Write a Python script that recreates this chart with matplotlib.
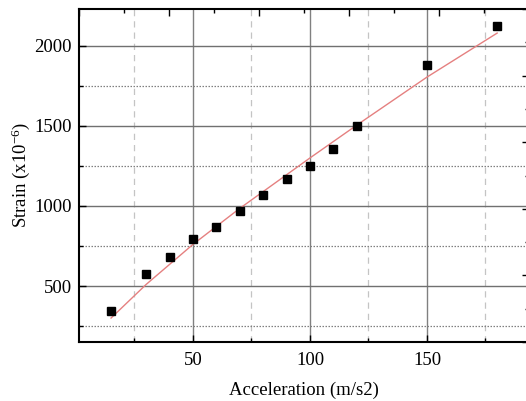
import matplotlib
matplotlib.use("Agg")
import matplotlib.pyplot as plt
from matplotlib.ticker import MultipleLocator, NullFormatter

plt.rcParams["font.family"] = ["Liberation Serif", "DejaVu Serif"]
plt.rcParams["mathtext.fontset"] = "custom"
plt.rcParams["mathtext.rm"] = "Liberation Serif"
plt.rcParams["mathtext.it"] = "Liberation Serif:italic"
plt.rcParams["axes.unicode_minus"] = False

# measured points
accel = [15, 30, 40, 50, 60, 70, 80, 90, 100, 110, 120, 150, 180]
strain = [345, 577, 684, 791, 871, 969, 1069, 1169, 1251, 1356, 1500, 1878, 2122]

# red trend line
fit_x = [15, 30, 50, 70, 100, 120, 150, 180]
fit_y = [300, 510, 760, 985, 1300, 1505, 1805, 2080]

fig = plt.figure(figsize=(5.26, 4.01), dpi=100)
ax = fig.add_axes([0.1502, 0.147, 0.8555, 0.8304])

ax.plot(fit_x, fit_y, color="#e58080", lw=1.0, zorder=3)
ax.plot(accel, strain, "s", color="black", ms=6, zorder=4)

ax.set_xlim(1.3, 193.6)
ax.set_ylim(150, 2230)
ax.xaxis.set_major_locator(MultipleLocator(50))
ax.xaxis.set_minor_locator(MultipleLocator(25))
ax.yaxis.set_major_locator(MultipleLocator(500))
ax.yaxis.set_minor_locator(MultipleLocator(250))

ax.grid(which="major", axis="x", color="#808080", lw=1.0, ls="-")
ax.grid(which="major", axis="y", color="#707070", lw=1.0, ls="-")
ax.grid(which="minor", axis="x", color="#c4c4c4", lw=0.9, ls=(0, (5, 4)))
ax.grid(which="minor", axis="y", color="#808080", lw=0.9, ls=(0, (1.2, 1.2)))
ax.set_axisbelow(True)

ax.tick_params(which="both", direction="in", top=False, right=False,
               labelsize=13.5, width=1.0)
ax.tick_params(which="major", length=5)
ax.tick_params(which="minor", length=3)
ax.tick_params(axis="x", pad=7)
ax.tick_params(axis="y", pad=5)

for s in ax.spines.values():
    s.set_linewidth(1.5)
    s.set_color("black")

ax.set_xlabel("Acceleration (m/s2)", fontsize=13.5, labelpad=9)
ax.set_ylabel("Strain (x10$^{-6}$)", fontsize=13.5, labelpad=2)

# top and right tick-only axes
top = ax.twiny()
top.set_xlim(0, 200)
top.xaxis.set_major_locator(MultipleLocator(40))
top.xaxis.set_minor_locator(MultipleLocator(20))
top.xaxis.set_major_formatter(NullFormatter())
top.tick_params(which="both", direction="in", width=1.0)
top.tick_params(which="major", length=5)
top.tick_params(which="minor", length=3)
for s in top.spines.values():
    s.set_visible(False)

right = ax.twinx()
right.set_ylim(0, 10)
right.yaxis.set_major_locator(MultipleLocator(2))
right.yaxis.set_minor_locator(MultipleLocator(1))
right.yaxis.set_major_formatter(NullFormatter())
right.tick_params(which="both", direction="in", width=1.0)
right.tick_params(which="major", length=5)
right.tick_params(which="minor", length=3)
for s in right.spines.values():
    s.set_visible(False)

fig.savefig("out.png", dpi=100)
